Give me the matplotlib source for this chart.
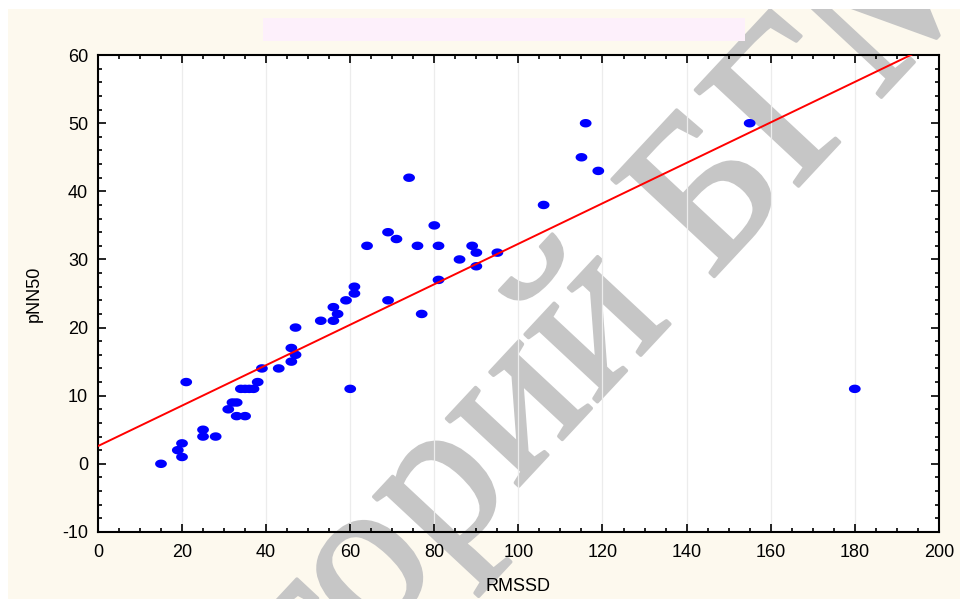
import numpy as np
import matplotlib
matplotlib.use("Agg")
import matplotlib.pyplot as plt
import matplotlib.patheffects as pe
from matplotlib.patches import Rectangle
from matplotlib.ticker import MultipleLocator
from matplotlib.textpath import TextPath
from matplotlib.font_manager import FontProperties

# values
rmssd = [15, 19, 20, 20, 21, 25, 25, 28, 31, 32, 33, 33, 35, 34, 35, 36, 37,
         38, 39, 43, 46, 46, 47, 47, 53, 56, 56, 57, 59, 61, 61, 60, 64, 69,
         69, 71, 74, 76, 77, 80, 81, 81, 86, 89, 90, 90, 95, 106, 115, 116,
         119, 155, 180]
pnn50 = [0, 2, 3, 1, 12, 5, 4, 4, 8, 9, 9, 7, 7, 11, 11, 11, 11,
         12, 14, 14, 17, 15, 16, 20, 21, 23, 21, 22, 24, 25, 26, 11, 32, 34,
         24, 33, 42, 32, 22, 35, 32, 27, 30, 32, 31, 29, 31, 38, 45, 50,
         43, 50, 11]
fit_intercept = 2.6
fit_slope = 0.297

x_ticks = [0, 20, 40, 60, 80, 100, 120, 140, 160, 180, 200]
y_ticks = [-10, 0, 10, 20, 30, 40, 50, 60]

WATERMARK = 'Репозиторий БГМУ'

plt.rcParams['font.family'] = ['Liberation Sans', 'DejaVu Sans']
plt.rcParams['axes.unicode_minus'] = False

DPI = 100
fig = plt.figure(figsize=(9.6, 5.99), dpi=DPI, facecolor='#fdf9ee')
# white strip at top / left of the scanned page
fig.patches.append(Rectangle((0, 0.985), 1, 0.015, transform=fig.transFigure,
                             facecolor='white', edgecolor='none', zorder=0))
fig.patches.append(Rectangle((0, 0), 0.008, 1, transform=fig.transFigure,
                             facecolor='white', edgecolor='none', zorder=0))
# empty title box
fig.patches.append(Rectangle((263 / 960, 1 - 41 / 599), 482 / 960, 23 / 599,
                             transform=fig.transFigure, facecolor='#fdf0fb',
                             edgecolor='none', zorder=1))

ax = fig.add_axes([0.102, 0.112, 0.876, 0.796])
ax.set_facecolor('white')

# ellipse-shaped marker, wider than tall
t = np.linspace(0, 2 * np.pi, 40)
ellipse = np.column_stack([np.cos(t), 0.72 * np.sin(t)])

ax.scatter(rmssd, pnn50, marker=ellipse, s=72, color='#0000ff',
           edgecolors='none', zorder=3)

xs = np.array([0, 200])
ax.plot(xs, fit_intercept + fit_slope * xs, color='#ff0000', lw=1.4, zorder=4)

ax.set_xlim(0, 200)
ax.set_ylim(-10, 60)
ax.set_xticks(x_ticks)
ax.set_yticks(y_ticks)
ax.xaxis.set_minor_locator(MultipleLocator(5))
ax.yaxis.set_minor_locator(MultipleLocator(2))
ax.tick_params(which='both', direction='in', top=True, right=True,
               labelsize=13, width=1.2, color='black')
ax.tick_params(axis='x', which='major', length=6, pad=9)
ax.tick_params(axis='y', which='major', length=6, pad=7)
ax.tick_params(which='minor', length=3)
for s in ax.spines.values():
    s.set_linewidth(1.5)
ax.grid(axis='x', which='major', color='#ececec', lw=0.9, zorder=0)

ax.set_xlabel('RMSSD', fontsize=13, labelpad=12)
ax.set_ylabel('pNN50', fontsize=13, labelpad=14)

# repository watermark, under the data.
# place it so that the origin of "Б" sits where it is in the scan
wm_size = 155
wm_angle = np.radians(47)
wm_font = FontProperties(family='Liberation Serif', size=wm_size)
lead = (TextPath((0, 0), 'Репозиторий Б', size=wm_size, prop=wm_font).get_extents().x1
        - TextPath((0, 0), 'Б', size=wm_size, prop=wm_font).get_extents().x1)
lead_px = lead * DPI / 72
b_x, b_y = 710, 599 - 281   # pixels, y measured from the bottom
x0 = b_x - lead_px * np.cos(wm_angle)
y0 = b_y - lead_px * np.sin(wm_angle)
ax.text(x0 / 960, y0 / 599, WATERMARK, transform=fig.transFigure,
        fontproperties=wm_font, color='#c6c6c6',
        rotation=np.degrees(wm_angle), rotation_mode='anchor',
        ha='left', va='baseline', zorder=1.5, clip_on=False,
        path_effects=[pe.withStroke(linewidth=2.5, foreground='#c6c6c6')])

fig.savefig('out.png', dpi=DPI, facecolor=fig.get_facecolor())
